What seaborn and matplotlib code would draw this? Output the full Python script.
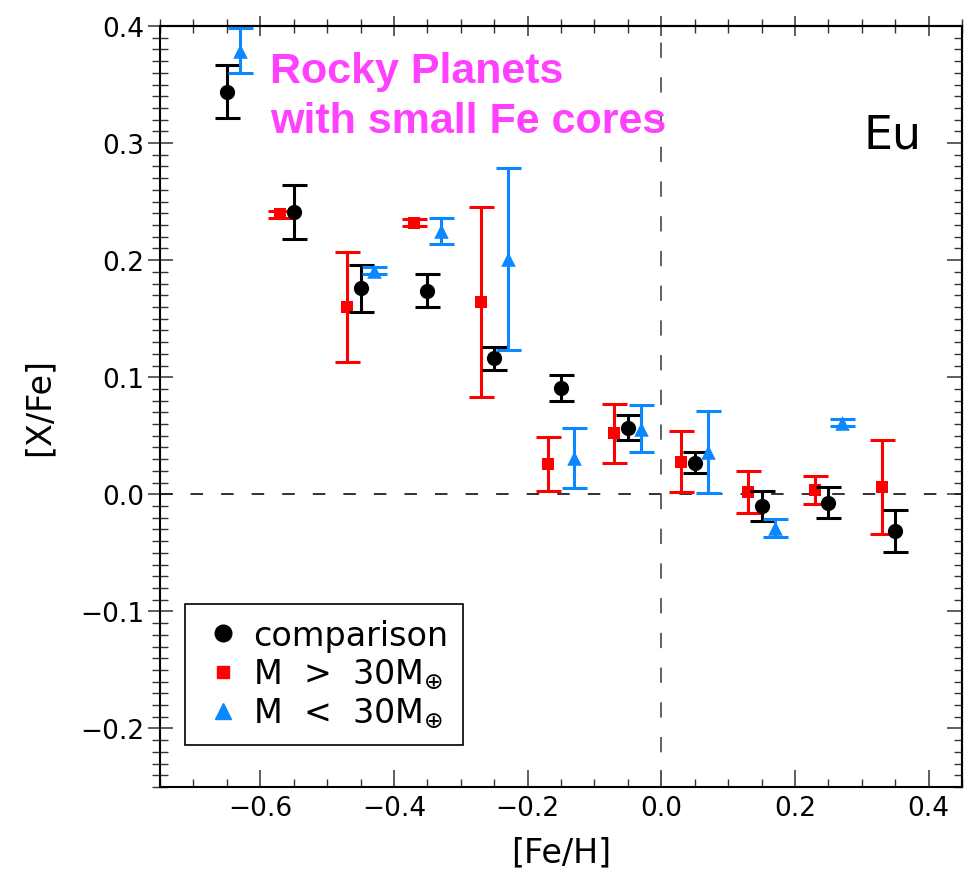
import matplotlib
matplotlib.use("Agg")
import matplotlib.pyplot as plt
from matplotlib.ticker import MultipleLocator, FixedLocator
from matplotlib.lines import Line2D
import numpy as np
import pandas as pd
import seaborn as sns

# ---- data: [X/Fe] for Eu versus [Fe/H] ----
feh_comp = [-0.65, -0.55, -0.45, -0.35, -0.25, -0.15, -0.05, 0.05, 0.15, 0.25, 0.35]
xfe_comp = [0.344, 0.241, 0.176, 0.174, 0.116, 0.091, 0.057, 0.027, -0.010, -0.007, -0.031]
err_comp = [0.023, 0.023, 0.020, 0.014, 0.010, 0.011, 0.011, 0.009, 0.013, 0.013, 0.018]

feh_hi = [-0.57, -0.47, -0.37, -0.27, -0.17, -0.07, 0.03, 0.13, 0.23, 0.33]
xfe_hi = [0.239, 0.160, 0.232, 0.164, 0.026, 0.052, 0.028, 0.002, 0.004, 0.006]
err_hi = [0.003, 0.047, 0.003, 0.081, 0.023, 0.025, 0.026, 0.018, 0.012, 0.040]

feh_lo = [-0.63, -0.43, -0.33, -0.23, -0.13, -0.03, 0.07, 0.17, 0.27]
xfe_lo = [0.379, 0.191, 0.225, 0.201, 0.031, 0.056, 0.036, -0.029, 0.061]
err_lo = [0.019, 0.003, 0.011, 0.078, 0.026, 0.020, 0.035, 0.0075, 0.003]

group_labels = ["comparison", "M  >  30M$_{\\oplus}$", "M  <  30M$_{\\oplus}$"]
x_ticks = [-0.6, -0.4, -0.2, 0.0, 0.2, 0.4]
y_ticks = [-0.2, -0.1, 0.0, 0.1, 0.2, 0.3, 0.4]

df = pd.concat([
    pd.DataFrame({"feh": feh_comp, "xfe": xfe_comp, "err": err_comp, "group": "comp"}),
    pd.DataFrame({"feh": feh_hi, "xfe": xfe_hi, "err": err_hi, "group": "hi"}),
    pd.DataFrame({"feh": feh_lo, "xfe": xfe_lo, "err": err_lo, "group": "lo"}),
], ignore_index=True)

sns.set_theme(style="ticks")
plt.rcParams["font.family"] = ["DejaVu Sans"]
plt.rcParams["mathtext.fontset"] = "dejavusans"
plt.rcParams["lines.scale_dashes"] = False
plt.rcParams["axes.unicode_minus"] = True

RED = "#ff0000"
BLUE = "#0a88ff"
BLACK = "#000000"
MAGENTA = "#ff40ff"

fig = plt.figure(figsize=(9.69, 8.78), dpi=100)
ax = fig.add_axes([160 / 969, 90 / 878, 802 / 969, 761 / 878])

ax.set_xlim(-0.75, 0.45)
ax.set_ylim(-0.25, 0.40)

# reference lines at solar values
ax.axhline(0.0, color="#222222", lw=1.3, dashes=(9, 13), zorder=1)
ax.axvline(0.0, color="#555555", lw=1.3, dashes=(11, 14), zorder=1)

styles = [
    ("hi", RED, "s", 64, 3),
    ("comp", BLACK, "o", 120, 4),
    ("lo", BLUE, "^", 110, 5),
]
for grp, color, marker, size, z in styles:
    sub = df[df["group"] == grp]
    ax.errorbar(sub["feh"], sub["xfe"], yerr=sub["err"], fmt="none",
                ecolor=color, elinewidth=2.2, capsize=9, capthick=2.2, zorder=z)
    sns.scatterplot(data=sub, x="feh", y="xfe", color=color, marker=marker,
                    s=size, linewidth=0, ax=ax, zorder=z + 0.5, legend=False)

# ticks
ax.xaxis.set_major_locator(FixedLocator(x_ticks))
ax.xaxis.set_minor_locator(MultipleLocator(0.05))
ax.yaxis.set_major_locator(FixedLocator(y_ticks))
ax.yaxis.set_minor_locator(MultipleLocator(0.01))
ax.set_xticklabels([f"{v:.1f}".replace("-", "\u2212") for v in x_ticks])
ax.set_yticklabels([f"{v:.1f}".replace("-", "\u2212") for v in y_ticks])

ax.tick_params(axis="x", which="both", direction="in", top=False, bottom=True,
               labelsize=19, pad=6, color="#333333", labelcolor="black")
ax.tick_params(axis="x", which="major", length=12, width=1.1)
ax.tick_params(axis="x", which="minor", length=6, width=1.0)
ax.tick_params(axis="y", which="both", direction="inout", left=True, right=False,
               labelsize=19, pad=2, color="#333333", labelcolor="black")
ax.tick_params(axis="y", which="major", length=18, width=1.1)
ax.tick_params(axis="y", which="minor", length=11, width=1.0)

secx = ax.secondary_xaxis("top")
secx.xaxis.set_major_locator(FixedLocator(x_ticks))
secx.xaxis.set_minor_locator(MultipleLocator(0.05))
secx.tick_params(which="both", direction="inout", labeltop=False, color="#333333")
secx.tick_params(which="major", length=14, width=1.1)
secx.tick_params(which="minor", length=10, width=1.0)

secy = ax.secondary_yaxis("right")
secy.yaxis.set_major_locator(FixedLocator(y_ticks))
secy.yaxis.set_minor_locator(MultipleLocator(0.01))
secy.tick_params(which="both", direction="in", labelright=False, color="#333333")
secy.tick_params(which="major", length=11, width=1.1)
secy.tick_params(which="minor", length=6, width=1.0)

for sp in list(ax.spines.values()) + [secx.spines["top"], secy.spines["right"]]:
    sp.set_linewidth(1.5)
    sp.set_color("black")

ax.set_xlabel("[Fe/H]", fontsize=24, labelpad=10, color="black")
ax.set_ylabel("[X/Fe]", fontsize=24, labelpad=18, color="black")

# annotations
ax.text(0.137, 0.9264, "Rocky Planets", transform=ax.transAxes, color=MAGENTA,
        fontsize=31, fontweight="bold", family=["Liberation Sans"], va="baseline", ha="left")
ax.text(0.137, 0.8607, "with small Fe cores", transform=ax.transAxes, color=MAGENTA,
        fontsize=31, fontweight="bold", family=["Liberation Sans"], va="baseline", ha="left")
ax.text(0.877, 0.84, "Eu", transform=ax.transAxes, color="black",
        fontsize=33, family=["DejaVu Sans"], fontweight="normal", va="baseline", ha="left")

handles = [
    Line2D([], [], ls="none", marker="o", color=BLACK, markersize=12),
    Line2D([], [], ls="none", marker="s", color=RED, markersize=9),
    Line2D([], [], ls="none", marker="^", color=BLUE, markersize=12),
]
leg = ax.legend(handles, group_labels, loc="lower left", bbox_to_anchor=(0.031, 0.055),
                borderaxespad=0, fontsize=24, frameon=True, fancybox=False,
                edgecolor="black", framealpha=1, borderpad=0.45, handlelength=1.4,
                handletextpad=0.2, labelspacing=0.15)
for t in leg.get_texts():
    t.set_color("black")
leg.get_frame().set_linewidth(1.2)

fig.savefig("out.png", dpi=100)
